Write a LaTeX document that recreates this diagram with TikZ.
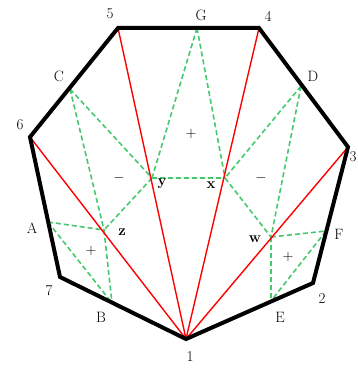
\documentclass[tikz,border=0pt]{standalone}
\usepackage{tikz}

\begin{document}
\begin{tikzpicture}[
  x=1pt, y=-1pt,
  rim/.style={draw, line width=4pt, line join=miter},
  diag/.style={draw=red, line width=1.4pt},
  aux/.style={draw={rgb,255:red,70;green,200;blue,110}, line width=1.6pt, dash pattern=on 5pt off 3pt},
  lbl/.style={font=\fontsize{15}{17}\selectfont, inner sep=0pt},
  pt/.style={font=\fontsize{15}{17}\selectfont\bfseries, inner sep=0pt},
  sgn/.style={font=\fontsize{14}{16}\selectfont, inner sep=0pt}
]
\useasboundingbox (0,0) rectangle (358,369);
% vertices
\coordinate (v1) at (186,339);
\coordinate (v2) at (313,283);
\coordinate (v3) at (348,147);
\coordinate (v4) at (259,28);
\coordinate (v5) at (118,28);
\coordinate (v6) at (30,137);
\coordinate (v7) at (60,277);
% points on the sides
\coordinate (A) at (48,222);
\coordinate (B) at (112,303);
\coordinate (C) at (70,89);
\coordinate (G) at (197,28);
\coordinate (D) at (301,86);
\coordinate (F) at (326,231);
\coordinate (E) at (271,301);
% inner points
\coordinate (y) at (152,178);
\coordinate (x) at (225,178);
\coordinate (z) at (104,230);
\coordinate (w) at (271,237);

\draw[aux] (C) -- (y) (C) -- (z) (G) -- (y) (G) -- (x) (D) -- (x) (D) -- (w);
\draw[aux] (y) -- (x) (y) -- (z) (x) -- (w);
\draw[aux] (A) -- (z) (A) -- (B) (z) -- (B);
\draw[aux] (w) -- (F) (F) -- (E) (w) -- (E);

\draw[diag] (v1) -- (v5) (v1) -- (v4) (v1) -- (v6) (v1) -- (v3);
\draw[rim] (v1) -- (v2) -- (v3) -- (v4) -- (v5) -- (v6) -- (v7) -- cycle;

\node[lbl] (l1) at (190,357) {1};
\node[lbl] (l2) at (322,299) {2};
\node[lbl] (l3) at (353,157) {3};
\node[lbl] (l4) at (268,16) {4};
\node[lbl] (l5) at (110,14) {5};
\node[lbl] (l6) at (20,125) {6};
\node[lbl] (l7) at (49,291) {7};
\node[lbl] (lA) at (32,228) {A};
\node[lbl] (lB) at (101,317) {B};
\node[lbl] (lC) at (59,76) {C};
\node[lbl] (lG) at (201,15) {G};
\node[lbl] (lD) at (313,76) {D};
\node[lbl] (lF) at (339,234) {F};
\node[lbl] (lE) at (280,317) {E};
\node[pt] (ly) at (162,184) {y};
\node[pt] (lx) at (211,185) {x};
\node[pt] (lz) at (122,232) {z};
\node[pt] (lw) at (255,239) {w};
\node[sgn] (s1) at (191,134) {$+$};
\node[sgn] (s2) at (119,178) {$-$};
\node[sgn] (s3) at (261,178) {$-$};
\node[sgn] (s4) at (91,251) {$+$};
\node[sgn] (s5) at (288,257) {$+$};
\end{tikzpicture}
\end{document}
